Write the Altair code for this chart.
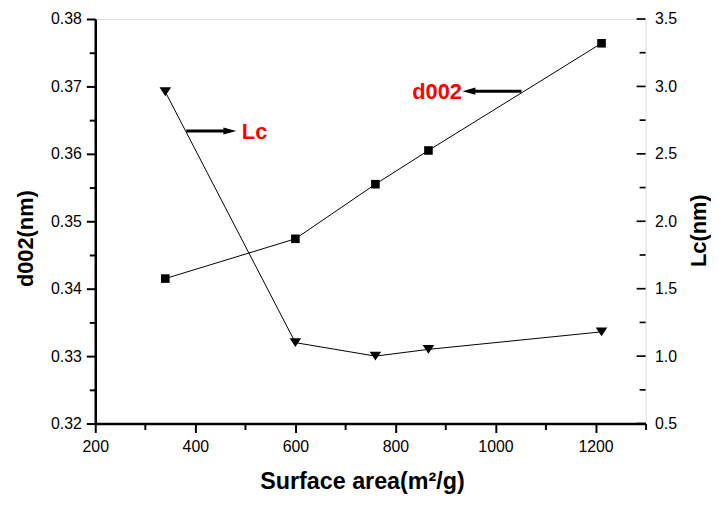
import altair as alt
import pandas as pd

# ---- data ----
surface_area = [340, 600, 760, 866, 1212]
d002_values = [0.3415, 0.3474, 0.3555, 0.3605, 0.3764]
lc_values = [2.96, 1.10, 1.00, 1.05, 1.18]

x_ticks = [200, 300, 400, 500, 600, 700, 800, 900, 1000, 1100, 1200, 1300]
left_ticks = [0.32, 0.325, 0.33, 0.335, 0.34, 0.345, 0.35, 0.355, 0.36, 0.365, 0.37, 0.375, 0.38]
right_major = [0.5, 1.0, 1.5, 2.0, 2.5, 3.0, 3.5]
right_minor = [0.75, 1.25, 1.75, 2.25, 2.75, 3.25]

# annotation positions (data coordinates; y on left axis)
label_text = ["Lc", "d002"]
label_x = [493, 933]
label_y = [0.3633, 0.3691]

arrow_x = [382, 947]
arrow_x2 = [469, 1052]
arrow_y = [0.3634, 0.3693]

FONT = "Liberation Sans"
W, H = 555, 408

df = pd.DataFrame({"x": surface_area, "d002": d002_values, "lc": lc_values})
df_lab_l = pd.DataFrame({"t": [label_text[0]], "x": [label_x[0]], "y": [label_y[0]]})
df_lab_r = pd.DataFrame({"t": [label_text[1]], "x": [label_x[1]], "y": [label_y[1]]})
df_arrow = pd.DataFrame({"x": arrow_x, "x2": arrow_x2, "y": arrow_y})
df_head_r = pd.DataFrame({"x": [arrow_x2[0]], "y": [arrow_y[0]]})
df_head_l = pd.DataFrame({"x": [arrow_x[1]], "y": [arrow_y[1]]})
df_rmaj = pd.DataFrame({"v": right_major})
df_rmin = pd.DataFrame({"v": right_minor})

xscale = alt.Scale(domain=[200, 1300], nice=False, zero=False)
lscale = alt.Scale(domain=[0.32, 0.38], nice=False, zero=False)
rscale = alt.Scale(domain=[0.5, 3.5], nice=False, zero=False)

x_major_test = "datum.value % 200 == 0"
xaxis = alt.Axis(
    values=x_ticks,
    labelExpr=f"{x_major_test} ? format(datum.value, 'd') : ''",
    tickSize={"condition": {"test": x_major_test, "value": 9}, "value": 6},
    tickWidth=2, tickColor="black", domainWidth=2.5, domainColor="black",
    labelFont=FONT, labelFontSize=16, labelColor="black", labelPadding=6.5,
    labelFlush=False, labelOverlap=False,
    grid=False,
    title="Surface area(m²/g)", titleFont=FONT, titleFontSize=23.5, titleFontWeight="bold",
    titleColor="black", titleAlign="center", titleBaseline="alphabetic",
    titleX=269, titleY=66,
)

l_major_test = "round(datum.value * 1000) % 10 == 0"
laxis = alt.Axis(
    values=left_ticks,
    labelExpr=f"{l_major_test} ? format(datum.value, '.2f') : ''",
    tickSize={"condition": {"test": l_major_test, "value": 9}, "value": 6},
    tickWidth=2, tickColor="black", domainWidth=2.5, domainColor="black",
    labelFont=FONT, labelFontSize=16, labelColor="black", labelPadding=5,
    labelFlush=False, labelOverlap=False,
    grid=False, orient="left",
    title="d002(nm)", titleFont=FONT, titleFontSize=22, titleFontWeight="bold",
    titleColor="black", titleAngle=270, titleAlign="center", titleBaseline="alphabetic",
    titleX=-63, titleY=221,
)

raxis = alt.Axis(
    values=right_major, format=".1f",
    ticks=False, tickSize=0, domain=False,
    labelFont=FONT, labelFontSize=16, labelColor="black", labelPadding=9,
    labelFlush=False, labelOverlap=False,
    grid=False, orient="right",
    title="Lc(nm)", titleFont=FONT, titleFontSize=22, titleFontWeight="bold",
    titleColor="black", titleAngle=270, titleAlign="center", titleBaseline="alphabetic",
    titleX=60, titleY=213,
)

X = alt.X("x:Q", scale=xscale, axis=xaxis)
YL = alt.Y("y:Q", scale=lscale, axis=laxis)

base = alt.Chart(df)
d_line = base.mark_line(color="black", strokeWidth=1).encode(
    x=X, y=alt.Y("d002:Q", scale=lscale, axis=laxis))
d_pts = base.mark_point(shape="square", filled=True, size=75, color="black", opacity=1).encode(
    x=X, y=alt.Y("d002:Q", scale=lscale, axis=laxis))

arrows = alt.Chart(df_arrow).mark_rule(color="black", strokeWidth=3).encode(
    x=X, x2="x2:Q", y=YL)
head_r = alt.Chart(df_head_r).mark_point(
    shape="M1,0L-1,-0.55L-1,0.55Z", filled=True, size=169, color="black", opacity=1,
    strokeWidth=0).encode(x=X, y=YL)
head_l = alt.Chart(df_head_l).mark_point(
    shape="M-1,0L1,-0.55L1,0.55Z", filled=True, size=169, color="black", opacity=1,
    strokeWidth=0).encode(x=X, y=YL)
lab_left = alt.Chart(df_lab_l).mark_text(
    align="left", baseline="middle", color="#FF0000", font=FONT, fontSize=22, fontWeight="bold").encode(
    x=X, y=YL, text="t:N")
lab_right = alt.Chart(df_lab_r).mark_text(
    align="right", baseline="middle", color="#FF0000", font=FONT, fontSize=22, fontWeight="bold").encode(
    x=X, y=YL, text="t:N")

left = alt.layer(d_line, d_pts, arrows, head_r, head_l, lab_left, lab_right)

l_line = base.mark_line(color="black", strokeWidth=1).encode(
    x=X, y=alt.Y("lc:Q", scale=rscale, axis=raxis))
l_pts = base.mark_point(shape="M-1,-0.77L1,-0.77L0,0.77Z", filled=True, size=137,
                        color="black", opacity=1).encode(
    x=X, y=alt.Y("lc:Q", scale=rscale, axis=raxis))
r_maj = alt.Chart(df_rmaj).mark_rule(color="black", strokeWidth=1.7).encode(
    y=alt.Y("v:Q", scale=rscale, axis=raxis), x=alt.value(W - 9), x2=alt.value(W))
r_min = alt.Chart(df_rmin).mark_rule(color="black", strokeWidth=1.7).encode(
    y=alt.Y("v:Q", scale=rscale, axis=raxis), x=alt.value(W - 6), x2=alt.value(W))

right = alt.layer(l_line, l_pts, r_maj, r_min)

chart = alt.layer(left, right).resolve_scale(y="independent").properties(
    width=W, height=H,
    autosize=alt.AutoSizeParams(type="none"),
    padding={"left": 88, "top": 9, "right": 66, "bottom": 74},
    background="white",
).configure_view(stroke="black", strokeWidth=1.3).configure(font=FONT)

chart.save("out.html", embed_options={"renderer": "svg", "actions": False})
